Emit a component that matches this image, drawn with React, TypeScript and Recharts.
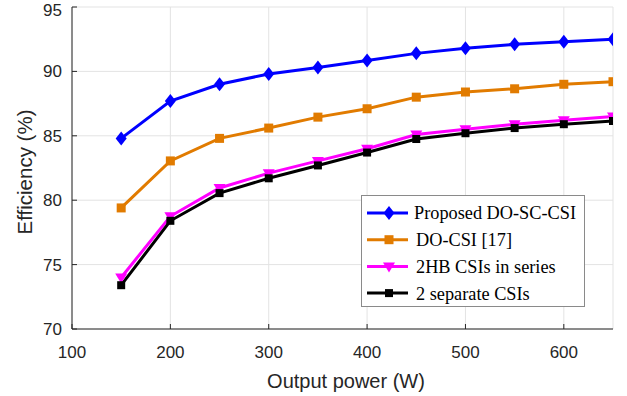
import { LineChart, Line, XAxis, YAxis, CartesianGrid } from "recharts";

const POWER = [150, 200, 250, 300, 350, 400, 450, 500, 550, 600, 650];
const PROPOSED = [84.8, 87.7, 89.0, 89.8, 90.3, 90.85, 91.4, 91.8, 92.1, 92.3, 92.5];
const DO_CSI = [79.4, 83.05, 84.8, 85.6, 86.45, 87.1, 88.0, 88.4, 88.65, 89.0, 89.2];
const TWO_HB = [74.0, 78.75, 80.95, 82.1, 83.05, 84.0, 85.1, 85.5, 85.9, 86.2, 86.5];
const SEPARATE = [73.4, 78.4, 80.55, 81.7, 82.7, 83.7, 84.75, 85.2, 85.6, 85.9, 86.15];

const X_TICKS = [100, 200, 300, 400, 500, 600];
const Y_TICKS = [70, 75, 80, 85, 90, 95];

const BLUE = "#0000ff";
const ORANGE = "#e17b00";
const MAGENTA = "#ff00ff";
const BLACK = "#000000";
const AXIS = "#262626";
const GRID = "#e3e3e3";

const data = POWER.map((p, i) => ({
  p,
  proposed: PROPOSED[i],
  doCsi: DO_CSI[i],
  twoHb: TWO_HB[i],
  separate: SEPARATE[i],
}));

type MarkerKind = "diamond" | "square" | "tri" | "smallSquare";

function Marker({ kind, cx, cy, color }: { kind: MarkerKind; cx: number; cy: number; color: string }) {
  if (kind === "diamond") {
    return <polygon points={`${cx},${cy - 7} ${cx + 5.5},${cy} ${cx},${cy + 7} ${cx - 5.5},${cy}`} fill={color} />;
  }
  if (kind === "tri") {
    return <polygon points={`${cx - 6},${cy - 4} ${cx + 6},${cy - 4} ${cx},${cy + 6}`} fill={color} />;
  }
  const s = kind === "square" ? 9 : 8;
  return <rect x={cx - s / 2} y={cy - s / 2} width={s} height={s} fill={color} />;
}

const dotFor = (kind: MarkerKind, color: string) => (props: any) => (
  <Marker key={`${kind}-${props.index}`} kind={kind} cx={props.cx} cy={props.cy} color={color} />
);

const SERIES: { key: string; name: string; color: string; kind: MarkerKind }[] = [
  { key: "proposed", name: "Proposed DO-SC-CSI", color: BLUE, kind: "diamond" },
  { key: "doCsi", name: "DO-CSI [17]", color: ORANGE, kind: "square" },
  { key: "twoHb", name: "2HB CSIs in series", color: MAGENTA, kind: "tri" },
  { key: "separate", name: "2 separate CSIs", color: BLACK, kind: "smallSquare" },
];

const SANS = "Liberation Sans, Arial, sans-serif";
const tickStyle = { fill: AXIS, fontSize: 17, fontFamily: SANS };
const noTick = () => <g />;

function LegendBox() {
  return (
    <div style={{ position: "absolute", left: 361, top: 195, width: 224, height: 112, background: "#fff", border: "1px solid #8a8a8a", boxSizing: "border-box" }}>
      <svg width={222} height={110} style={{ display: "block" }}>
        {SERIES.map((s, i) => {
          const y = 17 + i * 26.7;
          return (
            <g key={s.key}>
              <line x1={5} x2={46} y1={y} y2={y} stroke={s.color} strokeWidth={3} />
              <Marker kind={s.kind} cx={27} cy={y} color={s.color} />
              <text x={i === 0 ? 52 : 54} y={y} dy="0.35em" fontSize={18.3} fontFamily="Liberation Serif, Times New Roman, serif" fill="#000">
                {s.name}
              </text>
            </g>
          );
        })}
      </svg>
    </div>
  );
}

export default function App() {
  return (
    <div style={{ position: "absolute", left: 0, top: 0, width: 627, height: 396, background: "#fff" }}>
      <LineChart width={627} height={396} data={data} margin={{ top: 7, right: 14, left: 0, bottom: 0 }}>
        <CartesianGrid stroke={GRID} strokeWidth={1} />
        <XAxis
          dataKey="p"
          type="number"
          domain={[100, 650]}
          ticks={X_TICKS}
          allowDataOverflow
          height={67}
          stroke={AXIS}
          tickSize={-5}
          tickMargin={22}
          tick={tickStyle}
          label={{
            content: () => (
              <text x={346} y={388} textAnchor="middle" fontSize={20} fill={AXIS} fontFamily={SANS}>
                Output power (W)
              </text>
            ),
          }}
        />
        <XAxis xAxisId="top" orientation="top" type="number" domain={[100, 650]} ticks={X_TICKS} allowDataOverflow height={0} stroke={AXIS} tickSize={-5} tick={noTick} />
        <YAxis
          type="number"
          domain={[70, 95]}
          ticks={Y_TICKS}
          allowDataOverflow
          width={72}
          stroke={AXIS}
          tickSize={-5}
          tickMargin={15}
          tick={tickStyle}
          label={{
            content: () => (
              <text x={32} y={172} textAnchor="middle" fontSize={20.5} fill={AXIS} fontFamily={SANS} transform="rotate(-90 32 172)">
                Efficiency (%)
              </text>
            ),
          }}
        />
        <YAxis yAxisId="right" orientation="right" type="number" domain={[70, 95]} ticks={Y_TICKS} allowDataOverflow width={0} stroke={AXIS} tickSize={-5} tick={noTick} />
        {SERIES.map((s) => (
          <Line
            key={s.key}
            dataKey={s.key}
            stroke={s.color}
            strokeWidth={3}
            dot={dotFor(s.kind, s.color)}
            activeDot={false}
            isAnimationActive={false}
          />
        ))}
      </LineChart>
      <LegendBox />
    </div>
  );
}
